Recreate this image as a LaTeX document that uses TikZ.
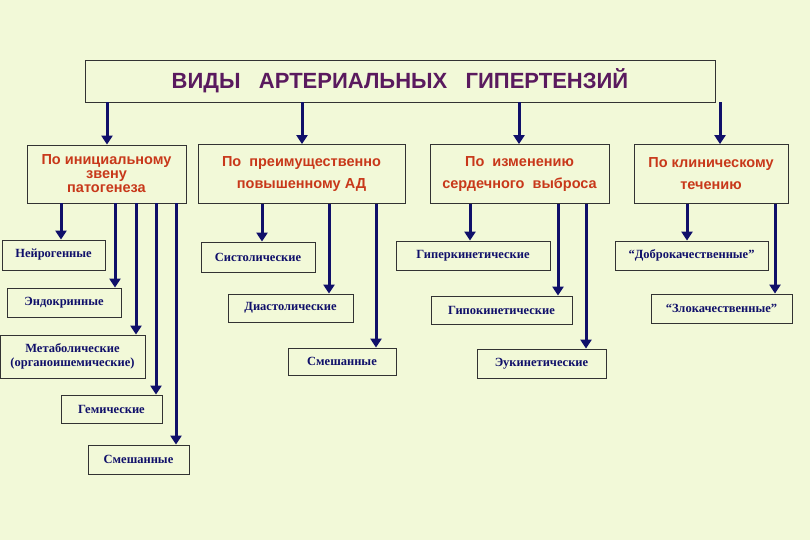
\documentclass[tikz,border=0pt]{standalone}
\usepackage{fontspec}
\usetikzlibrary{arrows.meta}
\setmainfont{Liberation Serif}
\newfontfamily\hdfont{Liberation Sans}
\definecolor{bg}{HTML}{F2F9D8}
\definecolor{navy}{HTML}{10106A}
\definecolor{ttl}{HTML}{5A1A5E}
\definecolor{hdr}{HTML}{C8381A}
\begin{document}
\begin{tikzpicture}[x=1pt,y=-1pt,
  box/.style={draw=black!80,line width=0.8pt,fill=bg,inner sep=0pt,align=center},
  hdrbox/.style={box,font=\hdfont\bfseries\fontsize{14.5}{18}\selectfont,text=hdr},
  sub/.style={box,font=\bfseries\fontsize{12.5}{14}\selectfont,text=navy},
  arr/.style={draw=navy,line width=3pt,-{Triangle[length=9pt,width=11pt]},shorten >=0pt}]
\fill[bg] (0,0) rectangle (810,540);
\useasboundingbox (0,0) rectangle (810,540);
\node[box,minimum width=630,minimum height=42,font=\hdfont\bfseries\fontsize{22}{24}\selectfont,text=ttl] (t) at (400,81) {ВИДЫ\ \ \ АРТЕРИАЛЬНЫХ\ \ \ ГИПЕРТЕНЗИЙ};
\node[hdrbox,minimum width=159,minimum height=58] (h1) at (106.5,174) {По инициальному\\[-4pt]звену\\[-4pt]патогенеза};
\node[hdrbox,minimum width=207,minimum height=59] (h2) at (301.5,174) {По\ \ преимущественно\\[4pt]повышенному АД};
\node[hdrbox,minimum width=179,minimum height=59] (h3) at (519.5,174) {По\ \ изменению\\[4pt]сердечного\ \ выброса};
\node[hdrbox,minimum width=154,minimum height=59] (h4) at (711,174) {По клиническому\\[4pt]течению};
% column 1
\node[sub,minimum width=103,minimum height=30] (a1) at (53.5,255) {Нейрогенные};
\node[sub,minimum width=114,minimum height=29] (a2) at (64,302.5) {Эндокринные};
\node[sub,minimum width=145,minimum height=43] (a3) at (72.5,356.5) {Метаболические\\(органоишемические)};
\node[sub,minimum width=101,minimum height=28] (a4) at (111.5,409) {Гемические};
\node[sub,minimum width=101,minimum height=29] (a5) at (138.5,459.5) {Смешанные};
% column 2
\node[sub,minimum width=114,minimum height=30] (b1) at (258,257) {Систолические};
\node[sub,minimum width=125,minimum height=28] (b2) at (290.5,308) {Диастолические};
\node[sub,minimum width=108,minimum height=27] (b3) at (342,361.5) {Смешанные};
% column 3
\node[sub,minimum width=154,minimum height=29] (c1) at (473,255.5) {Гиперкинетические};
\node[sub,minimum width=141,minimum height=28] (c2) at (501.5,310) {Гипокинетические};
\node[sub,minimum width=129,minimum height=29] (c3) at (541.5,363.5) {Эукинетические};
% column 4
\node[sub,minimum width=153,minimum height=29] (d1) at (691.5,255.5) {“Доброкачественные”};
\node[sub,minimum width=141,minimum height=29] (d2) at (721.5,308.5) {“Злокачественные”};
% arrows from title
\foreach \x/\h in {107/h1,302/h2,519/h3,720/h4}{
  \coordinate (xx) at (\x,0);
  \draw[arr] (t.south -| xx) -- (\h.north -| xx);}
% arrows to subs
\foreach \x/\h/\b in {61/h1/a1,115/h1/a2,136/h1/a3,156/h1/a4,176/h1/a5,
  262/h2/b1,329/h2/b2,376/h2/b3,470/h3/c1,558/h3/c2,586/h3/c3,687/h4/d1,775/h4/d2}{
  \coordinate (xx) at (\x,0);
  \draw[arr] (\h.south -| xx) -- (\b.north -| xx);}
\end{tikzpicture}
\end{document}
